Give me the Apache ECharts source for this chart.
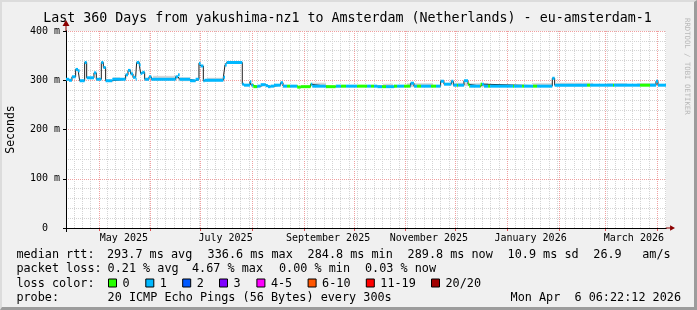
<!DOCTYPE html>
<html><head><meta charset="utf-8">
<script src="https://cdn.jsdelivr.net/npm/echarts@6/dist/echarts.min.js"></script>
<style>
html,body{margin:0;padding:0;background:#f0f0f0;}
#wrap{position:relative;width:697px;height:310px;}
#c{width:697px;height:310px;}
#frame{position:absolute;left:0;top:0;width:697px;height:310px;box-sizing:border-box;border-top:2px solid #dcdcdc;border-left:2px solid #dcdcdc;border-right:3px solid #9c9c9c;border-bottom:3px solid #9c9c9c;pointer-events:none;}
</style>
</head><body>
<div id="wrap"><div id="c"></div><div id="frame"></div></div>
<script>
// ---------------- data ----------------
const titleText = 'Last 360 Days from yakushima-nz1 to Amsterdam (Netherlands) - eu-amsterdam-1';
const rangeStart = '2025-04-11T06:22:12Z';
const rangeEnd = '2026-04-06T06:22:12Z';

// median RTT (ms), step values starting at each date
const medianDates = [
 '2025-04-11T06:22:12Z','2025-04-13T01','2025-04-14T20','2025-04-17T01','2025-04-18T11','2025-04-19T11',
 '2025-04-22T11','2025-04-23T16','2025-04-28T01','2025-04-29T11','2025-05-02T11','2025-05-03T16',
 '2025-05-05T01','2025-05-09T01','2025-05-17T01','2025-05-18T11','2025-05-20T01','2025-05-21T11',
 '2025-05-23T01','2025-05-23T16','2025-05-25T06','2025-05-26T01','2025-05-27T01','2025-05-28T11',
 '2025-05-31T01','2025-06-01T11','2025-06-16T01','2025-06-17T11','2025-06-18T11','2025-06-24T16',
 '2025-06-28T01','2025-06-30T01','2025-07-01T01','2025-07-02T16','2025-07-03T11','2025-07-14T16',
 '2025-07-15T16','2025-07-16T16','2025-07-26T01','2025-07-27T01','2025-07-30T16','2025-07-31T11',
 '2025-08-01T16','2025-08-04T01','2025-08-06T01','2025-08-09T01','2025-08-10T11','2025-08-12T01',
 '2025-08-14T01','2025-08-18T01','2025-08-19T11','2025-08-28T01','2025-08-30T01','2025-09-05T01',
 '2025-09-06T01','2025-09-14T01','2025-09-20T01','2025-10-15T01','2025-10-25T01','2025-11-04T01',
 '2025-11-06T01','2025-11-22T01','2025-11-24T01','2025-11-28T11','2025-11-29T16','2025-12-06T01',
 '2025-12-08T11','2025-12-09T06','2025-12-16T01','2025-12-18T01','2026-01-28T01','2026-01-29T11',
 '2026-03-31T06','2026-04-01T11','2026-04-06T06:22:12Z'
];
const medianValues = [
 302,300,307,322,319,299,
 336,305,315,302,336,326,
 299,302,311,320,313,306,
 302,336,331,314,316,302,
 307,302,307,311,302,299,
 302,334,329,299,300,306,
 331,336,292,290,297,290,
 287,288,291,289,287,288,
 290,295,288,286,287,292,
 288,287,288,287,288,294,
 288,298,292,298,290,299,
 292,288,292,288,304,290,
 298,290,290
];

// periods where packet loss was 0 of 20 (otherwise 1 of 20)
const lossZeroStart = ['2025-08-01T12','2025-08-21T22','2025-08-27T22','2025-09-14T07','2025-09-23T07','2025-10-02T22',
 '2025-10-11T07','2025-10-17T22','2025-10-25T02','2025-10-31T02','2025-11-07T22','2025-11-16T07','2025-12-01T22',
 '2025-12-08T12','2025-12-15T17','2025-12-20T12','2026-01-04T12','2026-01-09T22','2026-01-16T12','2026-02-17T22',
 '2026-03-05T12','2026-03-21T17'];
const lossZeroEnd = ['2025-08-03T22','2025-08-23T17','2025-09-05T07','2025-09-20T07','2025-09-26T07','2025-10-08T22',
 '2025-10-13T02','2025-10-20T07','2025-10-26T22','2025-11-03T17','2025-11-10T07','2025-11-19T07','2025-12-02T12',
 '2025-12-09T17','2025-12-16T22','2025-12-21T17','2026-01-05T02','2026-01-11T02','2026-01-18T22','2026-02-19T17',
 '2026-03-06T02','2026-03-27T17'];

// smoke (spread of the individual pings), ms
const smokeStart = ['2025-05-09T12','2025-06-02T12','2025-06-17T12','2025-07-04T22','2025-09-05T22','2025-10-18T12',
 '2025-11-01T22','2025-11-29T12','2025-12-09T02','2026-01-16T12','2026-01-30T07','2026-03-01T22','2026-03-19T22'];
const smokeEnd = ['2025-05-13T17','2025-06-16T22','2025-06-24T17','2025-07-14T12','2025-09-14T07','2025-10-24T12',
 '2025-11-17T12','2025-12-08T12','2025-12-20T12','2026-01-27T22','2026-02-21T12','2026-03-13T22','2026-03-31T22'];
const smokeLow  = [300,300,298,298,286,286,286,288,286,288,288,288,288];
const smokeHigh = [306,309,306,305,295,293,294,295,294,294,295,294,294];

const monthStarts = ['2025-05-01','2025-06-01','2025-07-01','2025-08-01','2025-09-01','2025-10-01','2025-11-01',
 '2025-12-01','2026-01-01','2026-02-01','2026-03-01','2026-04-01'];
const monthLabelDates = ['2025-05-16','2025-07-16','2025-09-15T12','2025-11-15','2026-01-15','2026-03-18'];
const monthLabels = ['May 2025','July 2025','September 2025','November 2025','January 2026','March 2026'];

const yMin = 0, yMax = 400, yStep = 100;

const lossNames  = ['0','1','2','3','4-5','6-10','11-19','20/20'];
const lossColors = ['#26ff00','#00b8ff','#0059ff','#7e00ff','#ff00ff','#ff5500','#ff0000','#a10000'];

const statLine1 = ['median rtt:','293.7 ms avg','336.6 ms max','284.8 ms min','289.8 ms now','10.9 ms sd','26.9','am/s'];
const statLine2 = ['packet loss:','0.21 % avg','4.67 % max','0.00 % min','0.03 % now'];
const probeLine = ['probe:','20 ICMP Echo Pings (56 Bytes) every 300s','Mon Apr  6 06:22:12 2026'];
const watermark = 'RRDTOOL / TOBI OETIKER';

// ---------------- build ----------------
const T = s => Date.parse(s.length === 10 ? s + 'T00:00:00Z' : (s.length === 13 ? s + ':00:00Z' : s));
const S = T(rangeStart), E = T(rangeEnd), DAY = 86400000;
const minorGrid = [];
for (let t = T('2025-04-16'); t < E; t += 5 * DAY) minorGrid.push(t);
const monthVals = monthStarts.map(T);
const labelVals = monthLabelDates.map(T);

const medPts = medianDates.map((d, i) => [T(d), medianValues[i]]);
const zero = lossZeroStart.map((s, i) => [T(s), T(lossZeroEnd[i])]);
const bandData = [];
for (let i = 0; i < medPts.length - 1; i++) {
  const a = medPts[i][0], b = medPts[i + 1][0], v = medPts[i][1];
  const cuts = [a, b];
  zero.forEach(([s, e]) => { if (s > a && s < b) cuts.push(s); if (e > a && e < b) cuts.push(e); });
  cuts.sort((x, y) => x - y);
  for (let k = 0; k < cuts.length - 1; k++) {
    const m = (cuts[k] + cuts[k + 1]) / 2;
    const cls = zero.some(([s, e]) => m >= s && m < e) ? 0 : 1;
    bandData.push([cuts[k], cuts[k + 1], v, cls]);
  }
}
const smokeData = smokeStart.map((s, i) => [T(s), T(smokeEnd[i]), smokeLow[i], smokeHigh[i]]);

const MONO = 'DejaVu Sans Mono';
const txt = (s, x, y, size, align, extra) => Object.assign({
  type: 'text', x, y, silent: true,
  style: { text: s, fill: '#000', fontFamily: MONO, fontSize: size, textAlign: align || 'left', align: align || 'left',
           textVerticalAlign: 'middle', verticalAlign: 'middle' }
}, extra || {});

const L1 = 254.5, L2 = 269, L3 = 283.5, L4 = 298, LF = 11.8;
const line1X = [16.4, 107, 207.6, 307.6, 407.6, 507.6, 593.3, 642.2];
const line2X = [16.4, 107.6, 192, 279, 365];
const swatchX = [108, 145.3, 182.2, 219, 256.4, 307.6, 365.8, 431];

const graphics = [];
graphics.push(txt(titleText, 347.5, 19, 13.3, 'center'));
statLine1.forEach((s, i) => graphics.push(txt(s, line1X[i], L1, LF)));
statLine2.forEach((s, i) => graphics.push(txt(s, line2X[i], L2, LF)));
graphics.push(txt('loss color:', 16.4, L3, LF));
lossNames.forEach((n, i) => {
  graphics.push({ type: 'rect', silent: true, shape: { x: swatchX[i] + 0.5, y: L3 - 4.5, width: 8, height: 8 },
    style: { fill: lossColors[i], stroke: '#000', lineWidth: 1 } });
  graphics.push(txt(n, swatchX[i] + 14.5, L3, LF));
});
graphics.push(txt(probeLine[0], 16.4, L4, LF));
graphics.push(txt(probeLine[1], 107.6, L4, LF));
graphics.push(txt(probeLine[2], 681, L4, LF, 'right'));
graphics.push(Object.assign(txt(watermark, 687, 18, 7.3, 'left'), { rotation: -Math.PI / 2 }));
graphics[graphics.length - 1].style.fill = '#b8b8b8';

// arrow head with a short stem, pointing along the axis
const ARROW = 'path://M3.5,0 L7,6 L4,6 L4,11 L3,11 L3,6 L0,6 Z';
const xBase = { type: 'value', min: S, max: E, position: 'bottom', offset: 0, gridIndex: 0 };
const chart = echarts.init(document.getElementById('c'), null, { renderer: 'canvas', width: 697, height: 310 });
chart.setOption({
  animation: false,
  backgroundColor: '#f0f0f0',
  grid: { left: 66, right: 31, top: 31, bottom: 82, show: true, backgroundColor: '#ffffff', borderWidth: 0,
          containLabel: false, outerBoundsMode: 'none' },
  xAxis: [
    Object.assign({}, xBase, { z: 1,
      axisLine: { show: true, onZero: false, lineStyle: { color: '#000', width: 1 } },
      axisTick: { show: true, customValues: [S], length: 4, lineStyle: { color: '#000' } },
      axisLabel: { show: true, customValues: labelVals, margin: 5, color: '#000', fontFamily: MONO, fontSize: 10,
        formatter: v => { let k = 0, best = Infinity; labelVals.forEach((lv, i) => { const d = Math.abs(lv - v); if (d < best) { best = d; k = i; } }); return monthLabels[k]; } },
      splitLine: { show: false } }),
    Object.assign({}, xBase, { z: 0.5,
      axisLine: { show: false }, axisLabel: { show: false },
      axisTick: { show: true, customValues: monthVals, length: 3, lineStyle: { color: '#e05050' } },
      splitLine: { show: true, lineStyle: { color: '#f0a0a0', width: 1, type: [1, 1] } } }),
    Object.assign({}, xBase, { z: 0,
      axisLine: { show: false }, axisLabel: { show: false },
      axisTick: { show: false, customValues: minorGrid },
      splitLine: { show: true, lineStyle: { color: '#d4d4d4', width: 1, type: [1, 1] } } }),
    Object.assign({}, xBase, { z: 0.2,
      axisLine: { show: true, onZero: false, symbol: ['none', ARROW], symbolSize: [7, 9], symbolOffset: [0, 4.5],
        lineStyle: { color: '#8b0000', width: 1 } },
      axisTick: { show: false }, axisLabel: { show: false }, splitLine: { show: false } })
  ],
  yAxis: [
    { type: 'value', min: yMin, max: yMax, interval: yStep, position: 'left', offset: 0, z: 1,
      name: 'Seconds', nameLocation: 'middle', nameGap: 49,
      nameTextStyle: { fontFamily: MONO, fontSize: 11.5, color: '#000' },
      axisLine: { show: true, onZero: false, lineStyle: { color: '#000', width: 1 } },
      axisTick: { show: true, length: 3, lineStyle: { color: '#000' } },
      minorTick: { show: false, splitNumber: 5 },
      axisLabel: { margin: 6, color: '#000', fontFamily: MONO, fontSize: 10,
        formatter: v => v === 0 ? '0  ' : v + ' m' },
      splitLine: { show: true, lineStyle: { color: '#f0a0a0', width: 1, type: [1, 1] } },
      minorSplitLine: { show: true, lineStyle: { color: '#d4d4d4', width: 1, type: [1, 1] } } },
    { type: 'value', min: yMin, max: yMax, interval: yStep, position: 'left', offset: 0, z: 0.2,
      axisLine: { show: true, onZero: false, symbol: ['none', ARROW], symbolSize: [7, 11], symbolOffset: [0, 5.5],
        lineStyle: { color: '#8b0000', width: 1 } },
      axisTick: { show: false }, axisLabel: { show: false }, splitLine: { show: false } }
  ],
  series: [
    { type: 'custom', name: 'smoke', xAxisIndex: 0, yAxisIndex: 0, z: 2, clip: true,
      encode: { x: [0, 1], y: [2, 3] }, data: smokeData,
      renderItem: (p, api) => {
        const a = api.coord([api.value(0), api.value(3)]), b = api.coord([api.value(1), api.value(2)]);
        return { type: 'rect', shape: { x: a[0], y: a[1], width: b[0] - a[0], height: b[1] - a[1] }, style: { fill: '#d6d6d6' } };
      } },
    { type: 'line', name: 'median', xAxisIndex: 0, yAxisIndex: 0, z: 3, step: 'end', showSymbol: false, symbol: 'none',
      data: medPts, lineStyle: { color: '#202020', width: 1 } },
    { type: 'custom', name: 'loss', xAxisIndex: 0, yAxisIndex: 0, z: 4, clip: true,
      encode: { x: [0, 1], y: 2 }, data: bandData,
      renderItem: (p, api) => {
        const a = api.coord([api.value(0), api.value(2)]), b = api.coord([api.value(1), api.value(2)]);
        return { type: 'rect', shape: { x: a[0], y: a[1] - 1.5, width: Math.max(b[0] - a[0], 0.6), height: 3 },
                 style: { fill: lossColors[api.value(3)] } };
      } }
  ],
  graphic: graphics
});
</script>
</body></html>
